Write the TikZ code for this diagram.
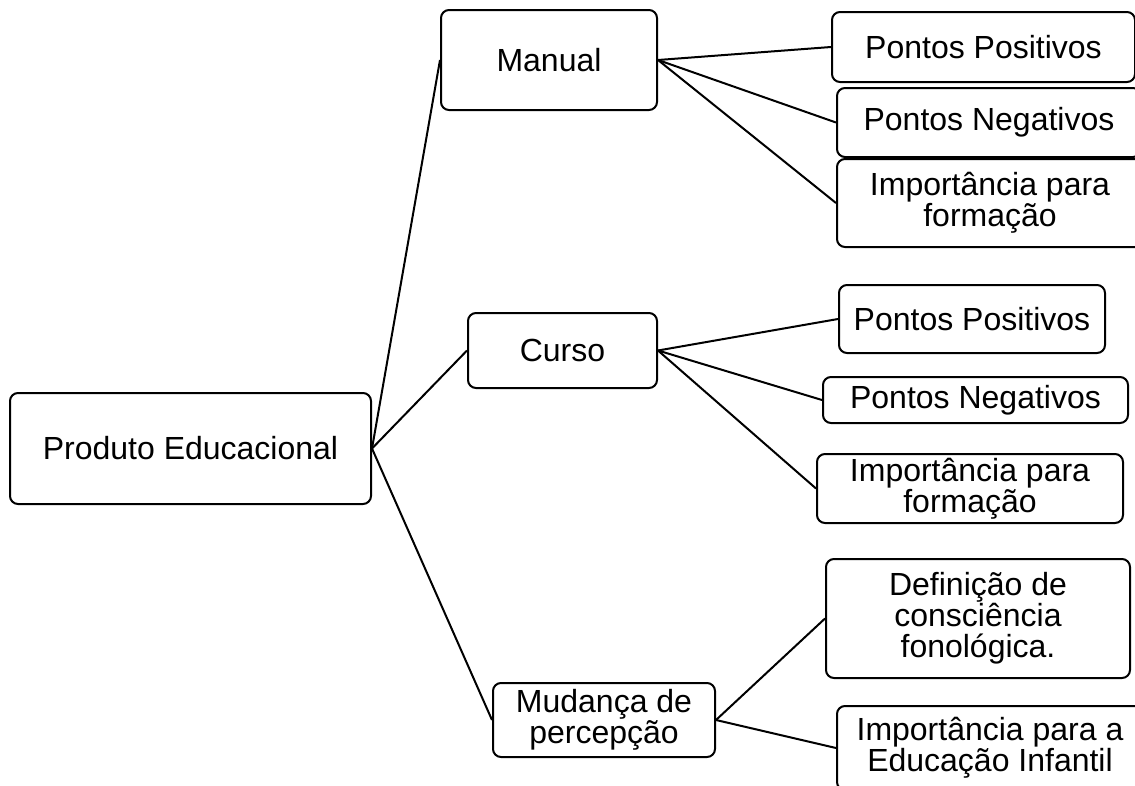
\documentclass[tikz,border=0pt]{standalone}
\usepackage{fontspec}
\setmainfont{Liberation Sans}
\begin{document}
\begin{tikzpicture}[x=1pt,y=-1pt,
  box/.style={draw=black, line width=2pt, rounded corners=8pt, rectangle,
    align=center, inner sep=0pt, font=\fontsize{32}{31}\selectfont},
  link/.style={draw=black, line width=2pt}]
\clip (0,0) rectangle (1135,785);
\fill[white] (0,0) rectangle (1135,785);
% level 0
\node[box, minimum width=361pt, minimum height=111pt] (prod) at (190.5,448.5) {Produto Educacional};
% level 1
\node[box, minimum width=216pt, minimum height=100pt] (manual) at (549,60) {Manual};
\node[box, minimum width=189pt, minimum height=75pt] (curso) at (562.5,350.5) {Curso};
\node[box, minimum width=222pt, minimum height=74pt] (mud) at (604,720) {Mudança de\\percepção};
% manual children
\node[box, minimum width=303pt, minimum height=70pt] (mpp) at (983.5,47) {Pontos Positivos};
\node[box, minimum width=304pt, minimum height=69pt] (mpn) at (989,122.5) {Pontos Negativos};
\node[box, minimum width=306pt, minimum height=88pt] (mif) at (990,203) {Importância para\\formação};
% curso children
\node[box, minimum width=266pt, minimum height=68pt] (cpp) at (972,319) {Pontos Positivos};
\node[box, minimum width=305pt, minimum height=46pt] (cpn) at (975.5,400) {Pontos Negativos};
\node[box, minimum width=306pt, minimum height=69pt] (cif) at (970,488.5) {Importância para\\formação};
% mudanca children
\node[box, minimum width=304pt, minimum height=119pt] (def) at (978,618.5) {Definição de\\consciência\\fonológica.};
\node[box, minimum width=306pt, minimum height=84pt] (imp) at (990,748) {Importância para a\\Educação Infantil};
% connectors
\draw[link] (prod.east) -- (manual.west);
\draw[link] (prod.east) -- (curso.west);
\draw[link] (prod.east) -- (mud.west);
\draw[link] (manual.east) -- (mpp.west);
\draw[link] (manual.east) -- (mpn.west);
\draw[link] (manual.east) -- (mif.west);
\draw[link] (curso.east) -- (cpp.west);
\draw[link] (curso.east) -- (cpn.west);
\draw[link] (curso.east) -- (cif.west);
\draw[link] (mud.east) -- (def.west);
\draw[link] (mud.east) -- (imp.west);
\end{tikzpicture}
\end{document}
